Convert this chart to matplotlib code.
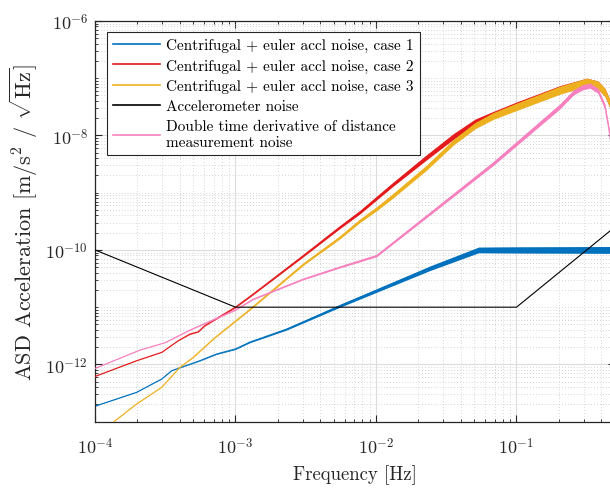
import numpy as np
import matplotlib
matplotlib.use("Agg")
import matplotlib.pyplot as plt
from matplotlib.lines import Line2D
from matplotlib.ticker import FixedLocator, LogLocator, NullFormatter

plt.rcParams["font.family"] = "serif"
plt.rcParams["font.serif"] = ["cmr10", "DejaVu Serif"]
plt.rcParams["mathtext.fontset"] = "cm"
plt.rcParams["axes.formatter.use_mathtext"] = True
plt.rcParams["axes.unicode_minus"] = False

# ---- spectra (log10 frequency [Hz], log10 ASD [m/s^2/sqrt(Hz)], scatter half-width [dex]) ----
case1_logf = [-4.0, -3.703, -3.525, -3.454, -3.253, -3.134, -3.0, -2.897, -2.636, -2.256,
              -1.829, -1.616, -1.27, -1.0, -0.6, -0.301]
case1_loga = [-12.73, -12.487, -12.255, -12.11, -11.935, -11.818, -11.73, -11.61, -11.384, -10.975,
              -10.538, -10.32, -10.0, -10.0, -10.0, -10.0]
case1_spread = [0.0, 0.0, 0.0, 0.0, 0.004, 0.006, 0.008, 0.01, 0.015, 0.025,
                0.035, 0.04, 0.05, 0.055, 0.058, 0.06]

case2_logf = [-4.0, -3.703, -3.525, -3.407, -3.324, -3.265, -3.217, -3.0, -2.873, -2.517,
              -2.256, -2.114, -1.877, -1.639, -1.45, -1.295, -1.165, -0.999, -0.69, -0.5,
              -0.42, -0.37, -0.335, -0.301]
case2_loga = [-12.21, -11.935, -11.79, -11.586, -11.47, -11.43, -11.32, -11.0, -10.77, -10.1,
              -9.6, -9.34, -8.85, -8.38, -8.02, -7.77, -7.64, -7.48, -7.20, -7.07,
              -7.12, -7.25, -7.45, -7.8]
case2_spread = [0.0, 0.0, 0.0, 0.0, 0.004, 0.004, 0.006, 0.008, 0.01, 0.018,
                0.025, 0.03, 0.035, 0.045, 0.05, 0.055, 0.06, 0.065, 0.07, 0.07,
                0.07, 0.07, 0.07, 0.07]

case3_logf = [-4.0, -3.865, -3.703, -3.525, -3.395, -3.30, -3.158, -3.039, -2.897, -2.517,
              -2.256, -2.114, -1.995, -1.877, -1.639, -1.45, -1.295, -1.165, -0.999, -0.69,
              -0.5, -0.42, -0.37, -0.335, -0.301]
case3_loga = [-13.26, -13.0, -12.69, -12.40, -12.05, -11.876, -11.556, -11.32, -11.04, -10.25,
              -9.78, -9.49, -9.28, -9.05, -8.56, -8.12, -7.83, -7.66, -7.50, -7.21,
              -7.07, -7.12, -7.25, -7.45, -7.8]
case3_spread = [0.0, 0.0, 0.0, 0.0, 0.0, 0.003, 0.005, 0.007, 0.009, 0.018,
                0.025, 0.03, 0.035, 0.04, 0.045, 0.05, 0.055, 0.06, 0.065, 0.07,
                0.07, 0.07, 0.07, 0.07, 0.07]

dist_logf = [-4.0, -3.68, -3.5, -3.324, -3.0, -2.873, -2.517, -2.256, -1.995, -1.165,
             -0.69, -0.595, -0.53, -0.477, -0.42, -0.37, -0.345, -0.33, -0.301]
dist_loga = [-12.07, -11.75, -11.62, -11.40, -11.05, -10.86, -10.51, -10.30, -10.10, -8.49,
             -7.49, -7.25, -7.16, -7.13, -7.22, -7.50, -7.85, -8.1, -8.7]
dist_spread = [0.0, 0.0, 0.0, 0.003, 0.005, 0.007, 0.01, 0.014, 0.018, 0.035,
               0.045, 0.045, 0.045, 0.045, 0.045, 0.045, 0.045, 0.045, 0.045]

accel_f = [1e-4, 1e-3, 1e-1, 0.5]
accel_asd = [1e-10, 1e-11, 1e-11, 2.5e-10]

labels = [
    "Centrifugal + euler accl noise, case 1",
    "Centrifugal + euler accl noise, case 2",
    "Centrifugal + euler accl noise, case 3",
    "Accelerometer noise",
    "Double time derivative of distance\nmeasurement noise",
]
colors = ["#0072BD", "#E41A1C", "#EDB120", "#000000", "#F781BF"]

x_ticks = [1e-4, 1e-3, 1e-2, 1e-1]
x_ticklabels = [r"$10^{-4}$", r"$10^{-3}$", r"$10^{-2}$", r"$10^{-1}$"]
y_ticks = [1e-12, 1e-10, 1e-8, 1e-6]
y_ticklabels = [r"$10^{-12}$", r"$10^{-10}$", r"$10^{-8}$", r"$10^{-6}$"]

fig = plt.figure(figsize=(6.10, 4.89), dpi=100)
ax = fig.add_axes([95 / 610, 66.3 / 489, 519.7 / 610, 400.8 / 489])


def draw_spectrum(logf, loga, spread, color, z):
    f = 10.0 ** np.asarray(logf)
    a = np.asarray(loga)
    s = np.asarray(spread)
    ax.fill_between(f, 10.0 ** (a - s), 10.0 ** (a + s), color=color, lw=0, zorder=z)
    ax.plot(f, 10.0 ** a, color=color, lw=0.9, zorder=z + 0.1)


draw_spectrum(case1_logf, case1_loga, case1_spread, colors[0], 2)
draw_spectrum(case2_logf, case2_loga, case2_spread, colors[1], 3)
draw_spectrum(case3_logf, case3_loga, case3_spread, colors[2], 4)
ax.plot(accel_f, accel_asd, color=colors[3], lw=0.8, zorder=6)
draw_spectrum(dist_logf, dist_loga, dist_spread, colors[4], 5)

ax.set_xscale("log")
ax.set_yscale("log")
ax.set_xlim(1e-4, 0.5)
ax.set_ylim(1e-13, 1e-6)

ax.xaxis.set_major_locator(FixedLocator(x_ticks))
ax.set_xticklabels(x_ticklabels)
ax.xaxis.set_minor_locator(LogLocator(base=10, subs=np.arange(2, 10), numticks=20))
ax.xaxis.set_minor_formatter(NullFormatter())
ax.yaxis.set_major_locator(FixedLocator(y_ticks))
ax.set_yticklabels(y_ticklabels)
ax.yaxis.set_minor_locator(LogLocator(base=10, subs=np.arange(1, 10), numticks=30))
ax.yaxis.set_minor_formatter(NullFormatter())

ax.tick_params(which="both", direction="in", top=True, right=True, colors="#262626",
               labelsize=13, labelcolor="#262626")
ax.tick_params(which="major", length=5, width=0.8)
ax.tick_params(which="minor", length=2.5, width=0.6)
ax.tick_params(axis="x", which="major", pad=10)
ax.tick_params(axis="y", which="major", pad=5)

ax.grid(True, which="major", color="#dcdcdc", lw=0.8, ls="-", zorder=0)
ax.grid(True, which="minor", color="#c8c8c8", lw=0.6, ls=(0, (1, 2.5)), zorder=0)
ax.set_axisbelow(True)
for sp in ax.spines.values():
    sp.set_color("#262626")
    sp.set_linewidth(0.9)

ax.set_xlabel("Frequency [Hz]", fontsize=13.5, color="#262626", labelpad=6)
ax.set_ylabel(r"ASD Acceleration [m/s$^2$ / $\sqrt{\mathrm{Hz}}$]", fontsize=16, color="#262626",
              labelpad=4)

handles = [Line2D([], [], color=c, lw=1.2) for c in colors]
leg = ax.legend(handles, labels, loc="upper left", bbox_to_anchor=(0.023, 0.972),
                borderaxespad=0, fontsize=11, handlelength=3.1, handletextpad=0.35,
                labelspacing=0.42, borderpad=0.4, fancybox=False, framealpha=1,
                edgecolor="#262626")
leg.get_frame().set_linewidth(0.8)

fig.savefig("out.png", dpi=100)
